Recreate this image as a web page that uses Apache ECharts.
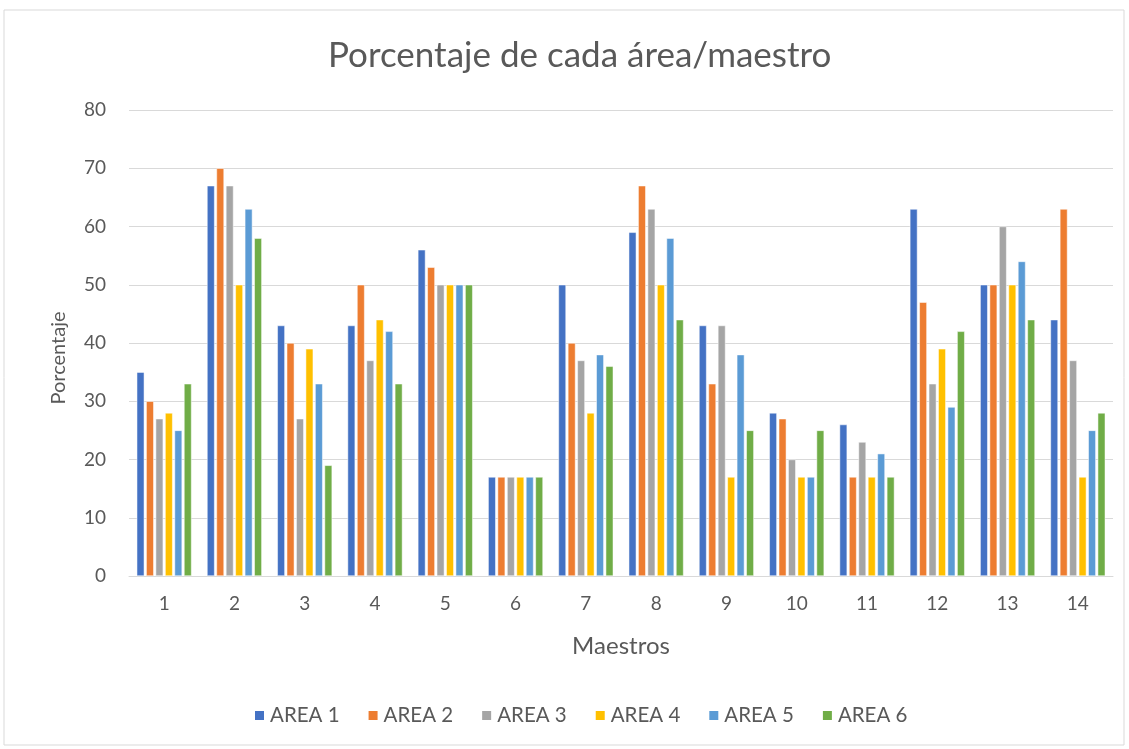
<!DOCTYPE html>
<html>
<head>
<meta charset="utf-8">
<script src="https://cdn.jsdelivr.net/npm/echarts@6/dist/echarts.min.js"></script>
<style>
	html, body { margin: 0; padding: 0; background: #fff; }
	#chart { width: 1129px; height: 749px; }
</style>
</head>
<body>
<div id="chart"></div>
<script>
// data
const maestros = ['1', '2', '3', '4', '5', '6', '7', '8', '9', '10', '11', '12', '13', '14']
const area1 = [35, 67, 43, 43, 56, 17, 50, 59, 43, 28, 26, 63, 50, 44]
const area2 = [30, 70, 40, 50, 53, 17, 40, 67, 33, 27, 17, 47, 50, 63]
const area3 = [27, 67, 27, 37, 50, 17, 37, 63, 43, 20, 23, 33, 60, 37]
const area4 = [28, 50, 39, 44, 50, 17, 28, 50, 17, 17, 17, 39, 50, 17]
const area5 = [25, 63, 33, 42, 50, 17, 38, 58, 38, 17, 21, 29, 54, 25]
const area6 = [33, 58, 19, 33, 50, 17, 36, 44, 25, 25, 17, 42, 44, 28]
const yTicks = { min: 0, max: 80, interval: 10 }

const seriesNames = ['AREA 1', 'AREA 2', 'AREA 3', 'AREA 4', 'AREA 5', 'AREA 6']
const seriesData = [area1, area2, area3, area4, area5, area6]
const colors = ['#4472C4', '#ED7D31', '#A5A5A5', '#FFC000', '#5B9BD5', '#70AD47']

const font = 'Lato, "Open Sans", sans-serif'
const textColor = '#595959'

const chart = echarts.init(document.getElementById('chart'), null, { renderer: 'canvas' })

const option = {
	color: colors,
	animation: false,
	textStyle: { fontFamily: font },
	title: {
		text: 'Porcentaje de cada área/maestro',
		left: 323,
		top: 33,
		textStyle: { fontFamily: font, fontSize: 35, fontWeight: 'normal', color: textColor },
	},
	graphic: [
		{
			type: 'rect',
			shape: { x: 4, y: 10, width: 1120, height: 735 },
			style: { fill: 'none', stroke: '#d9d9d9', lineWidth: 1 },
			silent: true,
		},
	],
	legend: {
		bottom: 18,
		left: 248,
		itemWidth: 11,
		itemHeight: 11,
		itemGap: 27,
		icon: 'rect',
		textStyle: { fontFamily: font, fontSize: 20.5, color: textColor },
		data: seriesNames,
	},
	grid: {
		left: 129,
		right: 16,
		top: 110,
		bottom: 173,
		containLabel: false,
	},
	xAxis: {
		type: 'category',
		data: maestros,
		name: 'Maestros',
		nameLocation: 'middle',
		nameGap: 58,
		nameTextStyle: { fontFamily: font, fontSize: 24, color: textColor },
		axisLine: { lineStyle: { color: '#d9d9d9', width: 1 } },
		axisTick: { show: false },
		axisLabel: { fontFamily: font, fontSize: 19, color: textColor, margin: 18 },
	},
	yAxis: {
		type: 'value',
		min: yTicks.min,
		max: yTicks.max,
		interval: yTicks.interval,
		name: 'Porcentaje',
		nameLocation: 'middle',
		nameGap: 60,
		nameTextStyle: { fontFamily: font, fontSize: 20, color: textColor, padding: [0, 30, 0, 0] },
		axisLine: { show: false },
		axisTick: { show: false },
		axisLabel: { fontFamily: font, fontSize: 19, color: textColor, margin: 23 },
		splitLine: { lineStyle: { color: '#d9d9d9', width: 1 } },
	},
	series: seriesNames.map((name, i) => ({
		name,
		type: 'bar',
		data: seriesData[i],
		barGap: '25%',
		barCategoryGap: '22%',
		itemStyle: { borderColor: '#ffffff', borderWidth: 0.5 },
	})),
}

chart.setOption(option)
</script>
</body>
</html>
